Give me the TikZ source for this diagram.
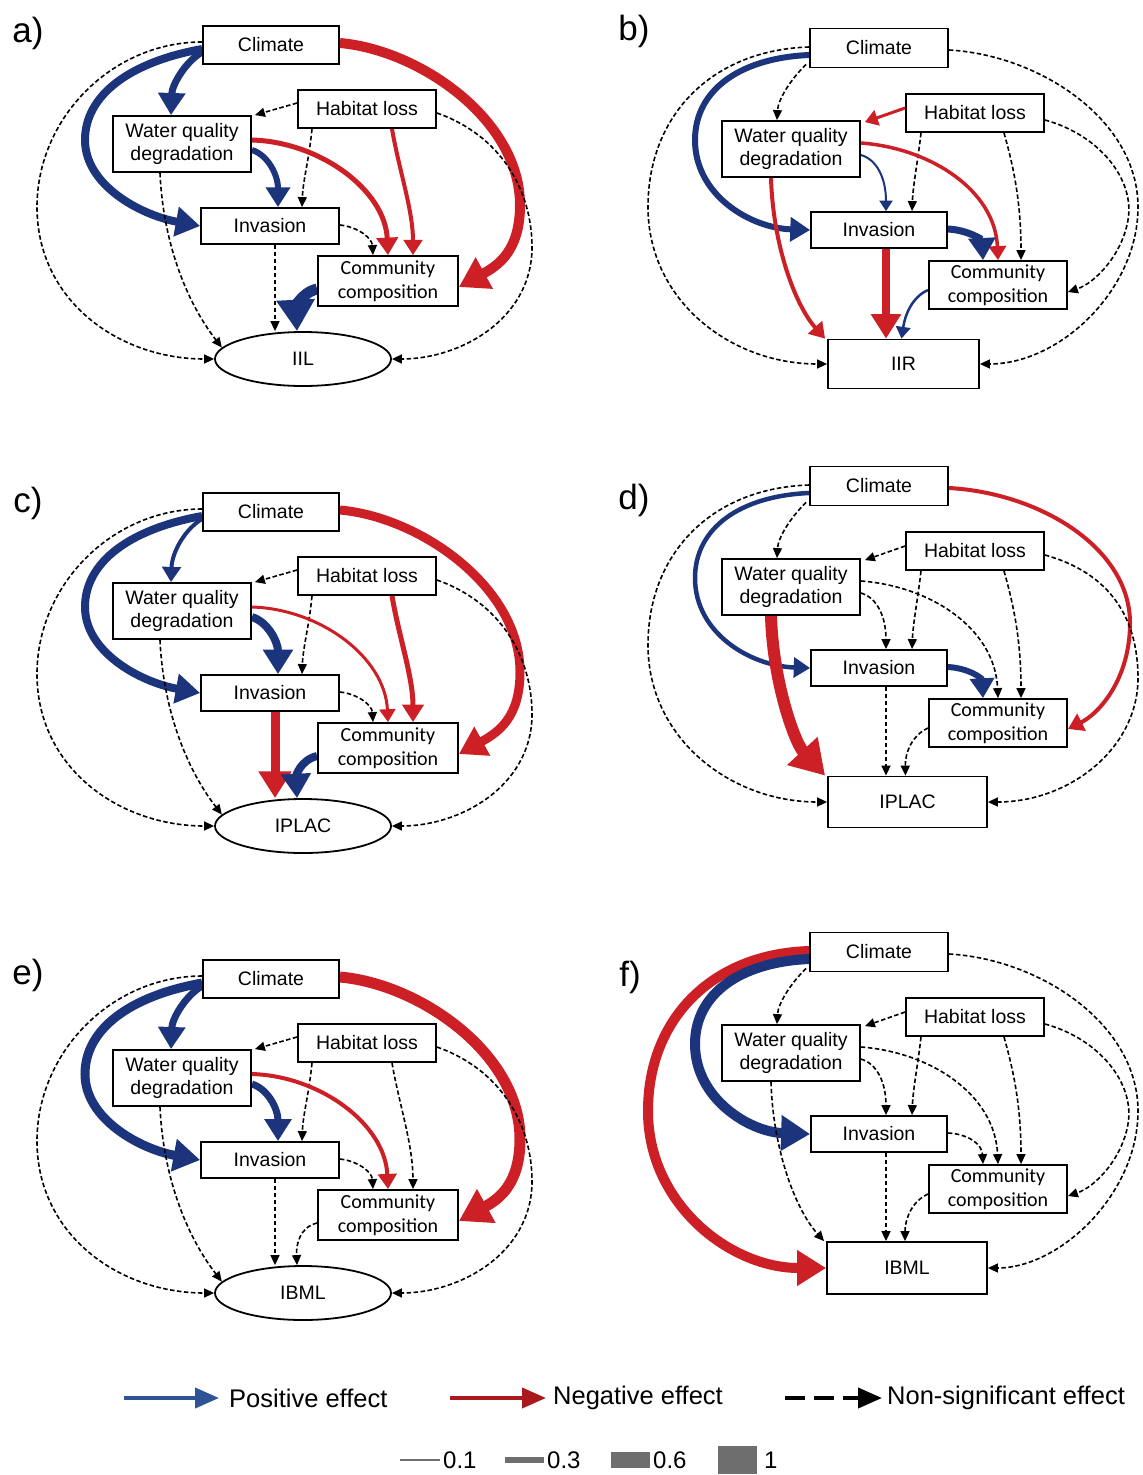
\documentclass[tikz,border=0pt]{standalone}
\usepackage{fontspec}
\setmainfont{Liberation Sans}
\newfontfamily\calib{Carlito}
\usetikzlibrary{arrows.meta,shapes.geometric}
\pgfdeclarelayer{back}
\pgfdeclarelayer{bg}
\pgfsetlayers{back,bg,main}

\definecolor{effblue}{RGB}{28,52,124}
\definecolor{effred}{RGB}{205,32,38}
\definecolor{legblue}{RGB}{46,84,150}
\definecolor{legred}{RGB}{170,25,30}
\definecolor{leggray}{RGB}{110,110,110}

\tikzset{
  box/.style={draw=black, line width=1.8pt, fill=white, inner sep=0pt, align=center, font=\fontsize{19.5}{23}\selectfont},
  ccbox/.style={box, font=\calib\fontsize{20}{24}\selectfont},
  oval/.style={draw=black, line width=1.8pt, fill=white, ellipse, inner sep=0pt, font=\fontsize{19.5}{23}\selectfont},
  dsh/.style={draw=black, line width=1.6pt, dash pattern=on 4.5pt off 2.5pt, -{Triangle[length=10pt,width=9pt]}},
  peff/.style={draw=effblue, line width=#1pt, -{Triangle[length=6pt 2.3 0,width=8pt 2.6 0]}},
  neff/.style={draw=effred, line width=#1pt, -{Triangle[length=6pt 2.3 0,width=8pt 2.6 0]}},
  absent/.style={},
  plabel/.style={font=\fontsize{35}{40}\selectfont, inner sep=0pt},
  legtext/.style={font=\fontsize{25.5}{30}\selectfont, inner sep=0pt, anchor=west},
  numtext/.style={font=\fontsize{24}{28}\selectfont, inner sep=0pt, anchor=west},
}

\newcommand\leftnodes[2]{%
  \node[box, minimum width=136pt, minimum height=38pt] (#1cl) at (271,45) {Climate};
  \node[box, minimum width=138pt, minimum height=38pt] (#1hl) at (367,109) {Habitat loss};
  \node[box, minimum width=138pt, minimum height=56pt] (#1wq) at (182,144) {Water quality\\degradation};
  \node[box, minimum width=138pt, minimum height=36pt] (#1inv) at (270,226) {Invasion};
  \node[ccbox, minimum width=140pt, minimum height=50pt] (#1cc) at (388,281) {Community\\composition};
  \node[oval, minimum width=176pt, minimum height=54pt] (#1out) at (303,359) {#2};
}

\newcommand\leftarrows[1]{%
 \begin{pgfonlayer}{bg}
 \path[L1] ([yshift=3pt]#1cl.west) .. controls (112,42) and (37,118) .. (37,207) .. controls (37,300) and (118,359) .. (#1out.west);
 \path[L2] ([yshift=-7pt]#1cl.west) .. controls (185,62) and (172,85) .. ([xshift=-11pt]#1wq.north);
 \path[L3] ([yshift=-4pt]#1cl.west) .. controls (130,62) and (85,95) .. (85,140) .. controls (85,185) and (140,215) .. (#1inv.west);
 \path[L4] ([yshift=2pt]#1cl.east) .. controls (420,50) and (520,120) .. (520,205) .. controls (520,250) and (499,265) .. ([yshift=-6pt]#1cc.east);
 \path[L5] ([yshift=6pt]#1hl.west) -- ([xshift=3pt]#1wq.north east);
 \path[L6] ([xshift=-55pt]#1hl.south) .. controls (309,160) and (303,180) .. ([xshift=32pt]#1inv.north);
 \path[L7] ([xshift=25pt]#1hl.south) .. controls (399,170) and (413,210) .. ([xshift=25pt]#1cc.north);
 \path[L8] ([yshift=-4pt]#1hl.east) .. controls (500,135) and (533,190) .. (532,250) .. controls (530,320) and (460,359) .. (#1out.east);
 \path[L9] ([yshift=-6pt]#1wq.east) .. controls (268,155) and (278,175) .. ([xshift=8pt]#1inv.north);
 \path[L10] ([yshift=4pt]#1wq.east) .. controls (320,142) and (385,190) .. (#1cc.north);
 \path[L11] ([xshift=-22pt]#1wq.south) .. controls (163,240) and (185,300) .. (#1out.172);
 \path[L12] ([yshift=1pt]#1inv.east) .. controls (358,227) and (372,238) .. ([xshift=-15pt]#1cc.north);
 \coordinate (#1s13) at ([xshift=5pt]#1inv.south);
 \path[L13] (#1s13) -- (#1s13 |- #1out.north);
 \path[L14] ([yshift=-8pt]#1cc.west) .. controls (300,293) and (296,310) .. ([xshift=-6pt]#1out.north);
 \end{pgfonlayer}
}

\newcommand\rightnodes[5]{%
  \node[box, minimum width=138pt, minimum height=39pt] (#1cl) at (879,48) {Climate};
  \node[box, minimum width=138pt, minimum height=38pt] (#1hl) at (975,113) {Habitat loss};
  \node[box, minimum width=138pt, minimum height=56pt] (#1wq) at (791,149) {Water quality\\degradation};
  \node[box, minimum width=136pt, minimum height=36pt] (#1inv) at (879,230) {Invasion};
  \node[ccbox, minimum width=138pt, minimum height=48pt] (#1cc) at (998,285) {Community\\composition};
  \node[box, minimum width=#4pt, minimum height=#5pt] (#1out) at (#3,364) {#2};
}

\newcommand\rightarrows[1]{%
 \begin{pgfonlayer}{bg}
 \path[R1] ([yshift=1pt]#1cl.west) .. controls (712,50) and (648,115) .. (648,207) .. controls (648,300) and (730,364) .. (#1out.west);
 \path[R2] ([xshift=-3pt,yshift=4pt]#1cl.south west) .. controls (790,80) and (778,100) .. ([xshift=-14pt]#1wq.north);
 \path[R3] ([yshift=-7pt]#1cl.west) .. controls (740,58) and (695,90) .. (695,140) .. controls (695,195) and (750,228) .. (#1inv.west);
 \path[R4] ([yshift=-2pt]#1cl.east) .. controls (1040,55) and (1138,120) .. (1138,207) .. controls (1138,290) and (1060,364) .. (#1out.east);
 \path[R4b] ([yshift=-2pt]#1cl.east) .. controls (1040,55) and (1130,110) .. (1130,185) .. controls (1130,240) and (1100,275) .. ([yshift=-6pt]#1cc.east);
 \path[R5] ([yshift=5pt]#1hl.west) -- ([xshift=4pt,yshift=-2pt]#1wq.north east);
 \path[R6] ([xshift=-54pt]#1hl.south) .. controls (918,160) and (913,185) .. ([xshift=33pt]#1inv.north);
 \path[R7] ([xshift=29pt]#1hl.south) .. controls (1013,165) and (1021,200) .. ([xshift=23pt]#1cc.north);
 \path[R8] ([yshift=-7pt]#1hl.east) .. controls (1100,135) and (1135,180) .. (1128,220) .. controls (1122,255) and (1095,283) .. ([yshift=-7pt]#1cc.east);
 \path[R8b] ([yshift=-4pt]#1hl.east) .. controls (1110,135) and (1138,180) .. (1138,240) .. controls (1138,310) and (1070,364) .. (#1out.east);
 \path[R9] ([yshift=-6pt]#1wq.east) .. controls (878,160) and (886,180) .. ([xshift=7pt]#1inv.north);
 \path[R10] ([yshift=6pt]#1wq.east) .. controls (930,148) and (995,190) .. (#1cc.north);
 \path[R11] ([xshift=-20pt]#1wq.south) .. controls (773,245) and (795,305) .. ([xshift=-2pt]#1out.north west);
 \path[R12] ([yshift=1pt]#1inv.east) .. controls (968,230) and (982,240) .. ([xshift=-15pt]#1cc.north);
 \coordinate (#1s13) at ([xshift=7pt]#1inv.south);
 \path[R13] (#1s13) -- (#1s13 |- #1out.north);
 \path[R14] ([yshift=-5pt]#1cc.west) .. controls (912,297) and (905,315) .. ([xshift=-2pt]#1out.north);
 \end{pgfonlayer}
}

\begin{document}
\begin{tikzpicture}[x=1pt,y=-1pt]
\begin{pgfonlayer}{back}\fill[white] (0,0) rectangle (1143,1475);\end{pgfonlayer}
\useasboundingbox (0,0) rectangle (1143,1475);

% ---------- panel a
\tikzset{L1/.style={dsh},L2/.style={peff=7},L3/.style={peff=8},L4/.style={neff=10},
 L5/.style={dsh},L6/.style={dsh},L7/.style={neff=4},L8/.style={dsh},L9/.style={peff=6},
 L10/.style={neff=5},L11/.style={dsh},L12/.style={dsh},L13/.style={dsh},L14/.style={peff=11}}
\begin{scope}
\leftnodes{a}{IIL}
\leftarrows{a}
\end{scope}

% ---------- panel c
\tikzset{L1/.style={dsh},L2/.style={peff=4},L3/.style={peff=8},L4/.style={neff=9},
 L5/.style={dsh},L6/.style={dsh},L7/.style={neff=5},L8/.style={dsh},L9/.style={peff=8},
 L10/.style={neff=3},L11/.style={dsh},L12/.style={dsh},L13/.style={neff=9},L14/.style={peff=8}}
\begin{scope}[shift={(0,467)}]
\leftnodes{c}{IPLAC}
\leftarrows{c}
\end{scope}

% ---------- panel e
\tikzset{L1/.style={dsh},L2/.style={peff=7},L3/.style={peff=9},L4/.style={neff=11},
 L5/.style={dsh},L6/.style={dsh},L7/.style={dsh},L8/.style={dsh},L9/.style={peff=7},
 L10/.style={neff=4},L11/.style={dsh},L12/.style={dsh},L13/.style={dsh},L14/.style={dsh}}
\begin{scope}[shift={(0,934)}]
\leftnodes{e}{IBML}
\leftarrows{e}
\end{scope}

% ---------- panel b
\tikzset{R1/.style={dsh},R2/.style={dsh},R3/.style={peff=6},R4/.style={dsh},R4b/.style={absent},
 R5/.style={neff=3},R6/.style={dsh},R7/.style={dsh},R8/.style={dsh},R8b/.style={absent},
 R9/.style={peff=2},R10/.style={neff=3.5},R11/.style={neff=4},R12/.style={peff=7},
 R13/.style={neff=8},R14/.style={peff=2.5}}
\begin{scope}
\rightnodes{b}{IIR}{903.5}{151}{49}
\rightarrows{b}
\end{scope}

% ---------- panel d
\tikzset{R1/.style={dsh},R2/.style={dsh},R3/.style={peff=4.5},R4/.style={absent},R4b/.style={neff=4},
 R5/.style={dsh},R6/.style={dsh},R7/.style={dsh},R8/.style={absent},R8b/.style={dsh},
 R9/.style={dsh},R10/.style={dsh},R11/.style={neff=12},R12/.style={peff=6},
 R13/.style={dsh},R14/.style={dsh}}
\begin{scope}[shift={(0,438)}]
\rightnodes{d}{IPLAC}{907.5}{159}{51}
\rightarrows{d}
\end{scope}

% ---------- panel f
\tikzset{R1/.style={neff=10},R2/.style={dsh},R3/.style={peff=10},R4/.style={dsh},R4b/.style={absent},
 R5/.style={dsh},R6/.style={dsh},R7/.style={dsh},R8/.style={dsh},R8b/.style={absent},
 R9/.style={dsh},R10/.style={dsh},R11/.style={dsh},R12/.style={dsh},
 R13/.style={dsh},R14/.style={dsh}}
\begin{scope}[shift={(0,904)}]
\rightnodes{f}{IBML}{907}{160}{52}
\rightarrows{f}
\end{scope}

% ---------- panel labels
\node[plabel] (la) at (28,33) {a)};
\node[plabel] (lb) at (634,31) {b)};
\node[plabel] (lc) at (28,503) {c)};
\node[plabel] (ld) at (634,500) {d)};
\node[plabel] (le) at (28,975) {e)};
\node[plabel] (lf) at (630,977) {f)};

% ---------- legend
\coordinate (lp1) at (124,1398); \coordinate (lp2) at (219,1398);
\draw[legblue, line width=4pt, -{Triangle[length=24pt,width=20pt]}] (lp1) -- (lp2);
\node[legtext] (lpt) at (229,1398) {Positive effect};
\coordinate (ln1) at (450,1398); \coordinate (ln2) at (546,1398);
\draw[legred, line width=4pt, -{Triangle[length=24pt,width=20pt]}] (ln1) -- (ln2);
\node[legtext] (lnt) at (553,1398) {Negative effect};
\coordinate (ls1) at (785,1398); \coordinate (ls2) at (882,1398);
\draw[black, line width=4pt, dash pattern=on 20pt off 9pt, -{Triangle[length=24pt,width=20pt]}] (ls1) -- (ls2);
\node[legtext] (lst) at (887,1398) {Non-significant effect};

\fill[leggray] (400,1459.2) rectangle (440,1460.8);
\node[numtext] (n1) at (443,1460) {0.1};
\fill[leggray] (505,1457) rectangle (544,1463);
\node[numtext] (n3) at (547,1460) {0.3};
\fill[leggray] (611,1452) rectangle (650,1468);
\node[numtext] (n6) at (653,1460) {0.6};
\fill[leggray] (718,1446) rectangle (757,1474);
\node[numtext] (n10) at (764,1460) {1};
\end{tikzpicture}
\end{document}
